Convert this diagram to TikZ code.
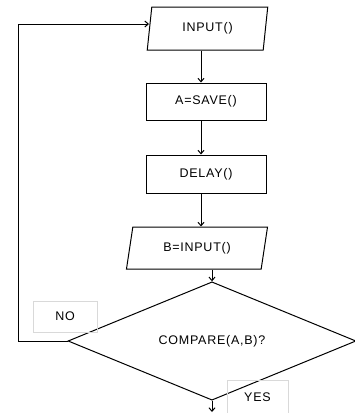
\documentclass[tikz,border=0pt]{standalone}
\usepackage{fontspec}
\setmainfont{Liberation Sans}[LetterSpace=6]
\usepackage{tikz}
\usetikzlibrary{positioning, shapes.geometric, arrows.meta}

\begin{document}
\begin{tikzpicture}[x=1pt, y=-1pt, font=\fontsize{12.5}{14}\selectfont]
	\tikzstyle{blocco} = [rectangle, draw, line width=1pt, minimum width=120pt, minimum height=37pt, inner sep=0pt]
	\tikzstyle{dati} = [trapezium, draw, line width=1pt, trapezium stretches=true, inner sep=0pt]
	\tikzstyle{etichetta} = [rectangle, draw=black!15, line width=0.6pt, inner sep=0pt]
	\tikzstyle{freccia} = [-{Straight Barb[length=3.5pt, width=6pt]}, line width=1pt]

	\useasboundingbox (0,0) rectangle (355,413);

	\node [dati, trapezium left angle=80, trapezium right angle=100, minimum width=121pt, minimum height=43pt] (input) at (207.5,28.5) {INPUT()};
	\node [blocco] (salva) at (206,101.5) {A=SAVE()};
	\node [blocco, minimum height=38pt] (ritardo) at (206,174) {DELAY()};
	\node [dati, trapezium left angle=74, trapezium right angle=106, minimum width=142pt, minimum height=42pt] (binput) at (197,248) {B=INPUT()};
	\node [diamond, draw, line width=1pt, minimum width=288pt, minimum height=76pt, inner sep=0pt] (confronto) at (212,341) {COMPARE(A,B)?};

	\node [etichetta, minimum width=64pt, minimum height=31pt] (no) at (65,316.5) {NO};
	\node [etichetta, minimum width=61pt, minimum height=34pt] (si) at (257.5,397) {YES};

	\coordinate (asse) at (201,0);
	\coordinate (ritorno) at (18,24);
	\coordinate (fine) at (212,412);

	\draw [freccia] (input.south -| asse) -- (salva.north -| asse);
	\draw [freccia] (salva.south -| asse) -- (ritardo.north -| asse);
	\draw [freccia] (ritardo.south -| asse) -- (binput.north -| asse);
	\draw [freccia] (binput.south -| confronto.north) -- (confronto.north);
	\draw [freccia] (confronto.west) -| (ritorno) -- (ritorno -| input.west);
	\draw [freccia] (confronto.south) -- (fine);
\end{tikzpicture}
\end{document}
